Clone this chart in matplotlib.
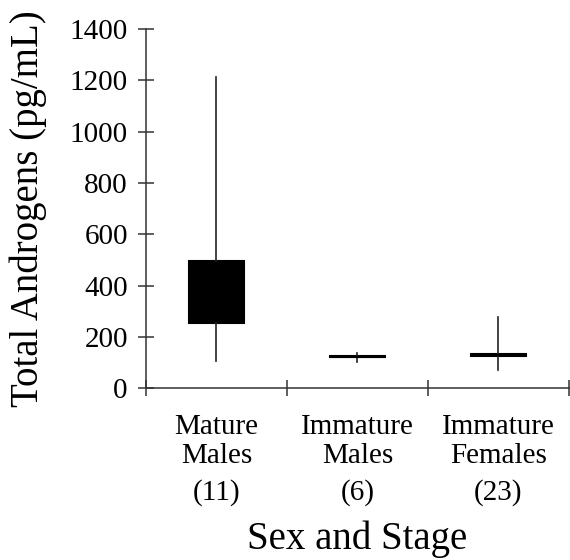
import matplotlib
matplotlib.use('Agg')
import matplotlib.pyplot as plt
import matplotlib.transforms as mtransforms

plt.rcParams['font.family'] = ['Liberation Serif', 'DejaVu Serif']

# values
groups = ['Mature\nMales', 'Immature\nMales', 'Immature\nFemales']
counts = ['(11)', '(6)', '(23)']
whis_lo = [106, 103, 71]
q1 = [252, 121, 124]
med = [370, 123, 128]
q3 = [494, 124, 132]
whis_hi = [1213, 138, 276]

stats = []
for i in range(len(groups)):
  stats.append({'label': groups[i], 'whislo': whis_lo[i], 'q1': q1[i], 'med': med[i],
                'q3': q3[i], 'whishi': whis_hi[i], 'fliers': []})

fig = plt.figure(figsize=(5.7, 5.6), dpi=100)
ax = fig.add_axes([0.256, 0.307, 0.742, 0.641])

pos = [1, 2, 3]
ax.bxp(stats, positions=pos, widths=0.39, showcaps=False, showfliers=False,
       patch_artist=True,
       boxprops={'facecolor': 'black', 'edgecolor': 'black', 'linewidth': 1.5},
       whiskerprops={'color': '#222222', 'linewidth': 1.2},
       medianprops={'color': 'black', 'linewidth': 1.5})

ax.set_xlim(0.5, 3.5)
ax.set_ylim(0, 1400)
ax.set_yticks(range(0, 1401, 200))
ax.set_xticks([0.5, 1.5, 2.5, 3.5])
ax.set_xticklabels([])
ax.set_xticks(pos, minor=True)
ax.set_xticklabels(groups, minor=True, linespacing=1.12)

ax.spines['top'].set_visible(False)
ax.spines['right'].set_visible(False)
for s in ['left', 'bottom']:
  ax.spines[s].set_linewidth(1.1)
  ax.spines[s].set_color('#333333')

ax.tick_params(axis='both', which='major', direction='inout', length=12, width=1.1,
               color='#333333', labelsize=21, pad=7)
ax.tick_params(axis='x', which='minor', length=0, labelsize=21, pad=19)

trans = mtransforms.blended_transform_factory(ax.transData, ax.transAxes)
for i in range(len(counts)):
  ax.text(pos[i], -0.29, counts[i], transform=trans, ha='center', va='center', fontsize=21)

ax.set_ylabel('Total Androgens (pg/mL)', fontsize=28)
ax.set_xlabel('Sex and Stage', fontsize=28)
ax.yaxis.set_label_coords(-0.235, 0.5)
ax.xaxis.set_label_coords(0.5, -0.37)

fig.savefig('out.png', dpi=100)
